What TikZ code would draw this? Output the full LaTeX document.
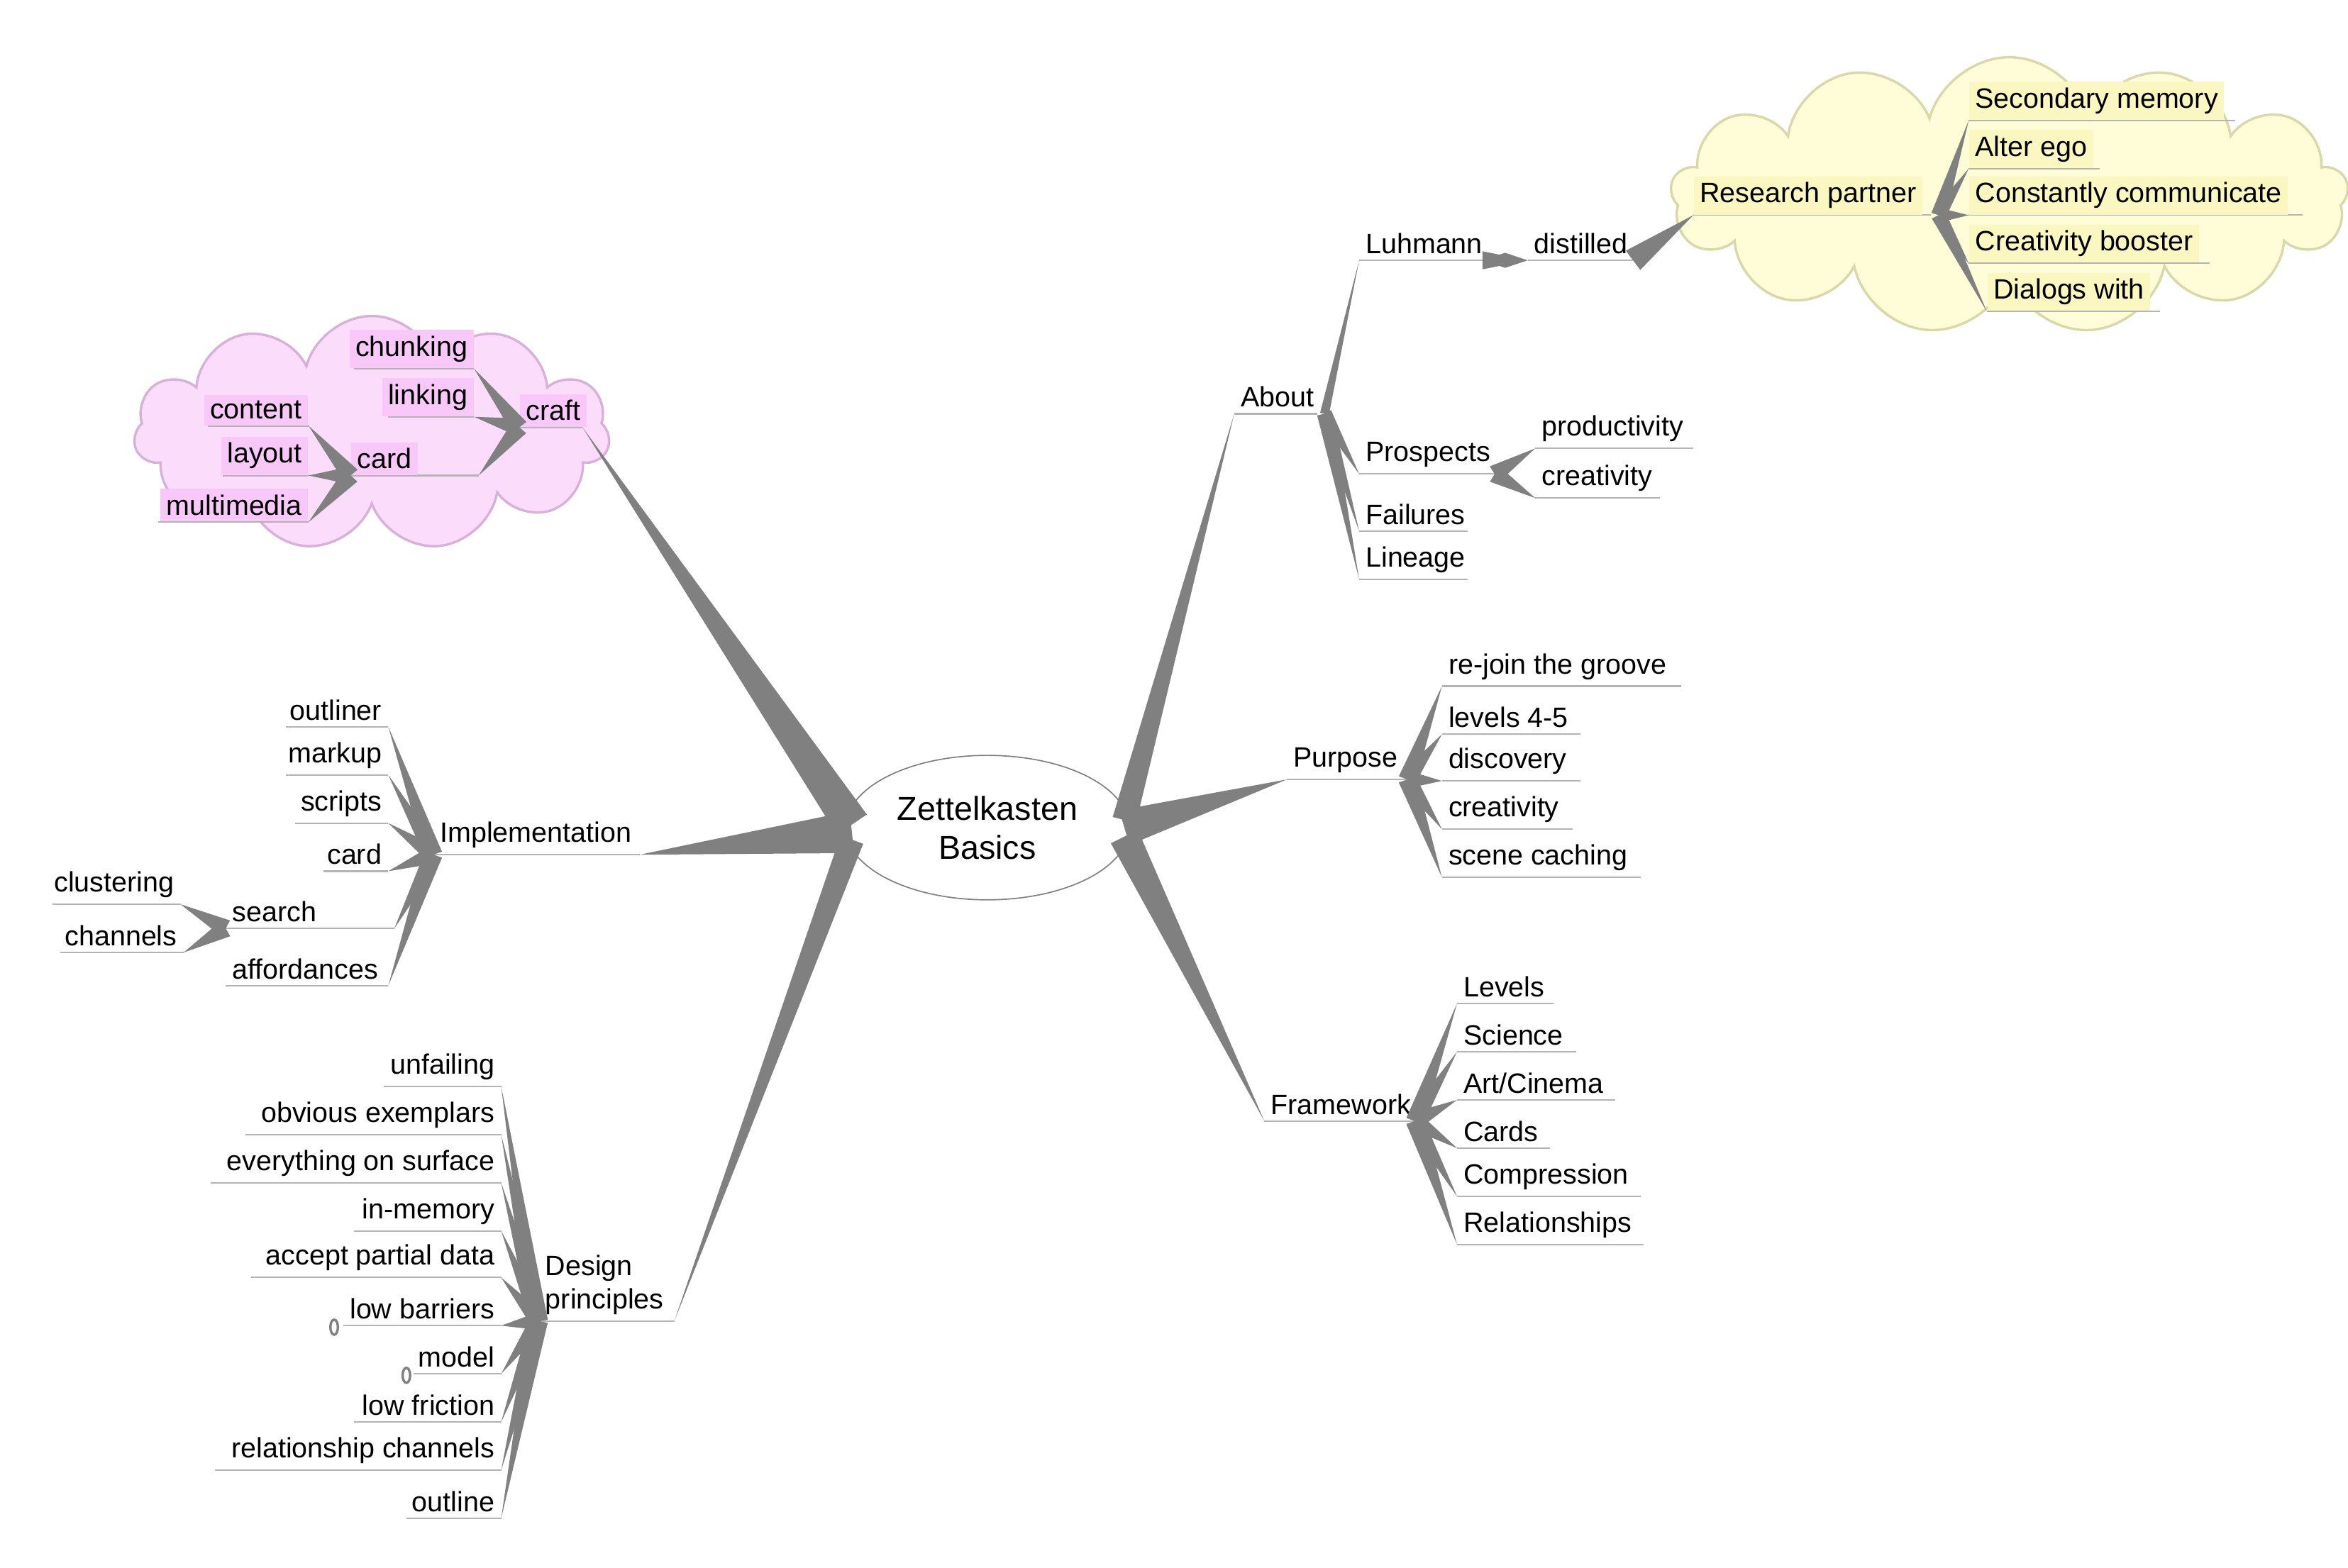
\documentclass[tikz,border=0pt]{standalone}
\usepackage{fontspec}
\setmainfont{Liberation Sans}
\usetikzlibrary{calc,shapes.geometric,shapes.symbols}
\definecolor{br}{HTML}{808080}
\definecolor{ulc}{HTML}{B4B4B4}
\definecolor{pinkf}{HTML}{FBDDFB}
\definecolor{pinkd}{HTML}{D8B0D8}
\definecolor{pinkh}{HTML}{F8C8F8}
\definecolor{yelf}{HTML}{FFFDD8}
\definecolor{yeld}{HTML}{D8D8A8}
\definecolor{yelh}{HTML}{FAF7C0}
\tikzset{
 ul/.style={draw=ulc,line width=0.5pt},
 lbl/.style={inner xsep=2pt,inner ysep=2pt,font=\fontsize{9.3}{11}\selectfont},
 br/.style={fill=br},
 thin/.style={draw=br,line width=0.4pt}
}
\newcommand\labl[6][]{\coordinate (#2-l) at (#3,#5); \coordinate (#2-r) at (#4,#5);
 \draw[ul] (#2-l)--(#2-r); \node[lbl,anchor=south west,#1] (#2) at (#2-l) {#6};}
\newcommand\labr[6][]{\coordinate (#2-l) at (#3,#5); \coordinate (#2-r) at (#4,#5);
 \draw[ul] (#2-l)--(#2-r); \node[lbl,anchor=south east,#1] (#2) at (#2-r) {#6};}
\newcommand\wdg[3]{\fill[br] ($(#1)!#3!90:(#2)$) -- (#2) -- ($(#1)!#3!-90:(#2)$) -- cycle;}
\begin{document}
\begin{tikzpicture}[x=0.5pt,y=-0.5pt]
\useasboundingbox (0,0) rectangle (1560,1042);
% clouds
\node[cloud,cloud puffs=11,draw=pinkd,fill=pinkf,line width=0.8pt,minimum width=158pt,minimum height=78pt,aspect=2] (pc) at (247,288) {};
\node[cloud,cloud puffs=13,draw=yeld,fill=yelf,line width=0.8pt,minimum width=225pt,minimum height=92pt,aspect=2.4] (yc) at (1335,130) {};
% center
\node[draw=br,ellipse,minimum width=90pt,minimum height=48pt,align=center,font=\fontsize{11}{13}\selectfont,line width=0.4pt] (c) at (656,550) {Zettelkasten\\Basics};
\coordinate (cl1) at (566,548); \coordinate (cl2) at (566,553); \coordinate (cl3) at (566,558);
\coordinate (cr1) at (747,545); \coordinate (cr2) at (747,550); \coordinate (cr3) at (747,556);
% right side
\labl{about}{820}{875}{275}{About}
\labl{purpose}{855}{935}{518}{Purpose}
\labl{frame}{840}{940}{745}{Framework}
\wdg{cr1}{about-l}{4pt}
\wdg{cr2}{purpose-l}{6pt}
\wdg{cr3}{frame-l}{5pt}
\coordinate (aj) at (880,275);
\labl{luh}{903}{985}{173}{Luhmann}
\labl{dist}{1015}{1085}{173}{distilled}
\labl[fill=yelh]{rp}{1125}{1283}{143}{Research partner}
\wdg{aj}{luh-l}{1.5pt}
\wdg{luh-r}{dist-l}{3pt}
\fill[br] (985,173) -- (1000,168) -- (1015,173) -- (1000,178) -- cycle;
\wdg{dist-r}{rp-l}{4pt}
\labl[fill=yelh]{sm}{1308}{1485}{80}{Secondary memory}
\labl[fill=yelh]{ae}{1308}{1395}{112}{Alter ego}
\labl[fill=yelh]{cc}{1308}{1530}{143}{Constantly communicate}
\labl[fill=yelh]{cb}{1308}{1468}{175}{Creativity booster}
\labl[fill=yelh]{dw}{1320}{1435}{207}{Dialogs with}
\coordinate (rj) at (1288,143);
\foreach \n in {sm,ae,cc,cb,dw} {\wdg{rj}{\n-l}{2.5pt}}
\labl{pros}{903}{993}{315}{Prospects}
\labl{prod}{1020}{1125}{298}{productivity}
\labl{crea}{1020}{1103}{331}{creativity}
\labl{fail}{903}{975}{353}{Failures}
\labl{lin}{903}{975}{385}{Lineage}
\foreach \n in {pros,fail,lin} {\wdg{aj}{\n-l}{2.5pt}}
\wdg{pros-r}{prod-l}{3pt}
\wdg{pros-r}{crea-l}{3pt}
% purpose children
\coordinate (pj) at (935,518);
\labl{rj1}{958}{1117}{456}{re-join the groove}
\labl{lv}{958}{1050}{488}{levels 4-5}
\labl{disc}{958}{1050}{519}{discovery}
\labl{cr2n}{958}{1045}{551}{creativity}
\labl{sc}{958}{1090}{583}{scene caching}
\foreach \n in {rj1,lv,disc,cr2n,sc} {\wdg{pj}{\n-l}{3pt}}
% framework children
\coordinate (fj) at (940,745);
\labl{f1}{968}{1032}{667}{Levels}
\labl{f2}{968}{1047}{699}{Science}
\labl{f3}{968}{1073}{731}{Art/Cinema}
\labl{f4}{968}{1030}{763}{Cards}
\labl{f5}{968}{1090}{795}{Compression}
\labl{f6}{968}{1092}{827}{Relationships}
\foreach \n in {f1,f2,f3,f4,f5,f6} {\wdg{fj}{\n-l}{3pt}}
% left side: craft
\labl[fill=pinkh]{craft}{345}{387}{284}{craft}
\wdg{cl1}{craft-r}{6pt}
\labr[fill=pinkh]{chunk}{235}{315}{245}{chunking}
\labr[fill=pinkh]{link}{258}{315}{277}{linking}
\labl[fill=pinkh]{card}{233}{318}{316}{card}
\wdg{craft-l}{chunk-r}{3pt}
\wdg{craft-l}{link-r}{3pt}
\wdg{craft-l}{card-r}{3pt}
\labr[fill=pinkh]{cont}{138}{205}{283}{content}
\labr[fill=pinkh]{lay}{148}{205}{316}{layout}
\labr[fill=pinkh]{mm}{105}{205}{347}{multimedia}
\foreach \n in {cont,lay,mm} {\wdg{card-l}{\n-r}{3pt}}
% implementation
\labl{impl}{288}{425}{568}{Implementation}
\wdg{cl2}{impl-r}{7pt}
\labr{out}{190}{258}{483}{outliner}
\labr{mark}{190}{258}{515}{markup}
\labr{scr}{196}{258}{547}{scripts}
\labr{icard}{215}{258}{579}{card}
\labl{search}{150}{262}{617}{search}
\labl{aff}{150}{258}{655}{affordances}
\foreach \n in {out,mark,scr,icard,search,aff} {\wdg{impl-l}{\n-r}{3pt}}
\labr{clus}{35}{120}{601}{clustering}
\labr{chan}{40}{122}{633}{channels}
\wdg{search-l}{clus-r}{3pt}
\wdg{search-l}{chan-r}{3pt}
% design principles
\coordinate (dp-l) at (358,878); \coordinate (dp-r) at (448,878);
\draw[ul] (dp-l)--(dp-r);
\node[lbl,anchor=south west,align=left] (dp) at (dp-l) {Design\\principles};
\wdg{cl3}{dp-r}{4pt}
\labr{d1}{255}{333}{722}{unfailing}
\labr{d2}{163}{333}{754}{obvious exemplars}
\labr{d3}{140}{333}{786}{everything on surface}
\labr{d4}{235}{333}{818}{in-memory}
\labr{d5}{167}{333}{849}{accept partial data}
\labr{d6}{228}{333}{881}{low barriers}
\labr{d7}{275}{333}{913}{model}
\labr{d8}{235}{333}{945}{low friction}
\labr{d9}{143}{333}{977}{relationship channels}
\labr{d10}{270}{333}{1009}{outline}
\foreach \n in {d1,d2,d3,d4,d5,d6,d7,d8,d9,d10} {\wdg{dp-l}{\n-r}{3pt}}
\node[draw=br,ellipse,line width=0.8pt,minimum width=2.5pt,minimum height=5pt,inner sep=0pt] (m1) at (222,882) {};
\node[draw=br,ellipse,line width=0.8pt,minimum width=2.5pt,minimum height=5pt,inner sep=0pt] (m2) at (270,914) {};
\end{tikzpicture}
\end{document}
